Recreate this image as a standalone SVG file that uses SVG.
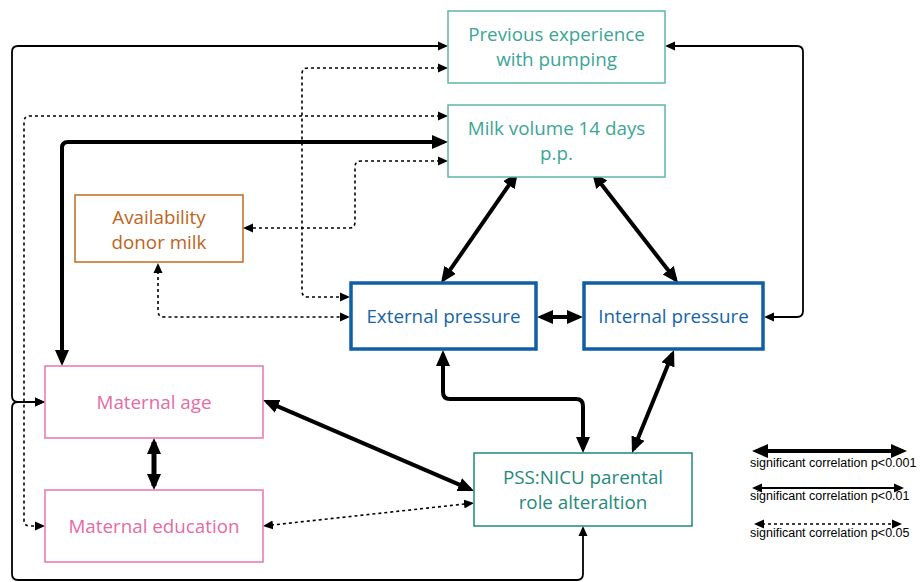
<svg xmlns="http://www.w3.org/2000/svg" width="921" height="582" viewBox="0 0 921 582">
<style>
.node rect{fill:#fff}
.node text{font-family:"Open Sans",Lato,sans-serif;font-size:18.8px;text-anchor:middle}
.teal rect{stroke:#5db6a8;stroke-width:1.5}
.teal text{fill:#3aa595}
.dteal rect{stroke:#1f8a7a;stroke-width:1.5}
.dteal text{fill:#1f8a7a}
.orange rect{stroke:#c2691f;stroke-width:1.5}
.orange text{fill:#bd6420}
.blue rect{stroke:#0f5fa7;stroke-width:3.5}
.blue text{fill:#1464ab}
.pink rect{stroke:#ea75ad;stroke-width:1.5}
.pink text{fill:#e66aa5}
.c path{fill:none;stroke:#000}
.thick{stroke-width:4;marker-start:url(#ah);marker-end:url(#ah)}
.thin{stroke-width:1.8;marker-start:url(#at);marker-end:url(#at)}
.dot{stroke-width:1.6;stroke-dasharray:3 3;marker-start:url(#at);marker-end:url(#at)}
.legend text{font-family:"Liberation Sans",Arial,sans-serif;font-size:12.5px;fill:#000}
</style>
<defs>
<marker id="ah" markerUnits="userSpaceOnUse" viewBox="0 0 16 16" markerWidth="16" markerHeight="16" refX="12" refY="8" orient="auto-start-reverse"><path d="M0,1 L16,8 L0,15 z" fill="#000"/></marker>
<marker id="at" markerUnits="userSpaceOnUse" viewBox="0 0 10 10" markerWidth="10" markerHeight="10" refX="8" refY="5" orient="auto-start-reverse"><path d="M0,0.5 L10,5 L0,9.5 z" fill="#000"/></marker>
</defs>
<rect width="921" height="582" fill="#fff"/>
<g id="connectors" class="c">
<path class="thin" d="M446,46 H18 Q12,46 12,52 V396 Q12,402 18,402 H43"/>
<path class="thin" d="M43,402 H18 Q12,402 12,408 V574 Q12,580 18,580 H577 Q583,580 583,574 V528"/>
<path class="dot" d="M446,68 H308 Q302,68 302,74 V291 Q302,297 308,297 H348"/>
<path class="dot" d="M446,116 H30 Q24,116 24,122 V520 Q24,526 30,526 H43"/>
<path class="thick" d="M444,142 H68 Q62,142 62,148 V362"/>
<path class="dot" d="M446,161 H361 Q355,161 355,167 V222 Q355,228 349,228 H245"/>
<path class="dot" d="M158,265 V311 Q158,317 164,317 H348"/>
<path class="thick" d="M515.7,175.3 L443.3,279.7"/>
<path class="thick" d="M594.4,175.2 L675.6,279.8"/>
<path class="thick" d="M541,317 H579"/>
<path class="thin" d="M667,46 H797 Q803,46 803,52 V311 Q803,317 797,317 H766"/>
<path class="thick" d="M443,354 V392 Q443,399 450,399 H576 Q583,399 583,406 V449"/>
<path class="thick" d="M672.5,353.7 L633.5,449.3"/>
<path class="thick" d="M266.7,401.6 L470.3,489.4"/>
<path class="thick" style="stroke-width:5" d="M154,442 V486"/>
<path class="dot" d="M265,525.8 L472,503.2"/>
</g>
<g id="n-prev" class="node teal"><rect x="448" y="11" width="217" height="72"/><text x="556.5" y="41">Previous experience</text><text x="556.5" y="66">with pumping</text></g>
<g id="n-milk" class="node teal"><rect x="448" y="105" width="217" height="72"/><text x="556.5" y="135">Milk volume 14 days</text><text x="556.5" y="160">p.p.</text></g>
<g id="n-donor" class="node orange"><rect x="75" y="195" width="168" height="67"/><text x="159" y="224">Availability</text><text x="159" y="249">donor milk</text></g>
<g id="n-ext" class="node blue"><rect x="351" y="283" width="185" height="66"/><text x="443.5" y="323">External pressure</text></g>
<g id="n-int" class="node blue"><rect x="584" y="283" width="179" height="66"/><text x="673.5" y="323">Internal pressure</text></g>
<g id="n-age" class="node pink"><rect x="45" y="366" width="218" height="72"/><text x="154" y="409">Maternal age</text></g>
<g id="n-edu" class="node pink"><rect x="45" y="490" width="218" height="72"/><text x="154" y="533">Maternal education</text></g>
<g id="n-pss" class="node dteal"><rect x="474" y="453" width="218" height="73"/><text x="583" y="484">PSS:NICU parental</text><text x="583" y="509">role alteraltion</text></g>
<g id="legend" class="legend">
<g class="c"><path class="thick" d="M756,451 H903"/><path class="thin" d="M754,488 H902"/><path class="dot" d="M756,524 H900"/></g>
<text x="750" y="467">significant correlation p&lt;0.001</text>
<text x="750" y="500">significant correlation p&lt;0.01</text>
<text x="750" y="537">significant correlation p&lt;0.05</text>
</g>
</svg>
